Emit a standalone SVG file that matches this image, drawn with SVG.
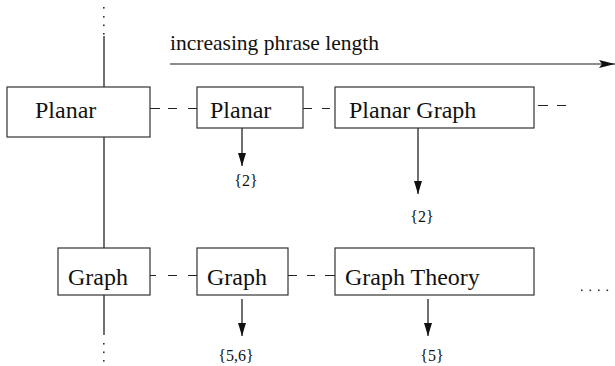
<svg xmlns="http://www.w3.org/2000/svg" width="615" height="366" viewBox="0 0 615 366">
<style>
.box{fill:#fff;stroke:#333;stroke-width:1.2}
.lbl{font-family:"Liberation Serif","Times New Roman",serif;font-size:24px;fill:#111}
.sm{font-family:"Liberation Serif","Times New Roman",serif;font-size:16px;fill:#111;text-anchor:middle}
.ln{stroke:#111;stroke-width:1.2;fill:none}
.dash{stroke:#222;stroke-width:1.2;fill:none}
.dot{fill:#333}
</style>
<defs>
<marker id="ah" markerWidth="14" markerHeight="8" refX="13" refY="4" orient="auto" markerUnits="userSpaceOnUse"><path d="M0,0 L13,4 L0,8 Z" fill="#111"/></marker>
<marker id="ah2" markerWidth="17" markerHeight="8" refX="16" refY="4" orient="auto" markerUnits="userSpaceOnUse"><path d="M0,0 L16,4 L0,8 L3,4 Z" fill="#111"/></marker>
</defs>
<g id="axis">
<text x="170" y="50" font-family="Liberation Serif, Times New Roman, serif" font-size="21.5" fill="#111">increasing phrase length</text>
<line x1="170" y1="64" x2="615" y2="64" stroke="#666" stroke-width="1.6" marker-end="url(#ah2)"/>
</g>
<g id="connectors">
<line class="ln" x1="104" y1="36" x2="104" y2="87"/>
<line class="ln" x1="104" y1="133" x2="104" y2="248"/>
<line class="ln" x1="104" y1="295" x2="104" y2="335"/>
<g class="dot">
<rect x="103" y="7" width="1.6" height="1.6"/><rect x="103" y="16" width="1.6" height="1.6"/><rect x="103" y="24.5" width="1.6" height="1.6"/><rect x="103" y="33" width="1.6" height="1.6"/>
<rect x="103" y="343" width="1.6" height="1.6"/><rect x="103" y="351.5" width="1.6" height="1.6"/><rect x="103" y="360" width="1.6" height="1.6"/>
<rect x="581" y="289.5" width="1.6" height="1.6"/><rect x="589.5" y="289.5" width="1.6" height="1.6"/><rect x="598" y="289.5" width="1.6" height="1.6"/><rect x="606.5" y="289.5" width="1.6" height="1.6"/>
</g>
<path class="dash" d="M150 108.5H160M168 108.5H177M188 108.5H197M303 108.5H312M322 108.5H330M538 105.5H548M557 105.5H566"/>
<path class="dash" d="M150 275.5H156M168 275.5H177M188 275.5H197M288 275.5H297M307 275.5H315M325 275.5H335"/>
<line class="ln" x1="242" y1="124" x2="242" y2="166" marker-end="url(#ah)"/>
<line class="ln" x1="418" y1="128" x2="418" y2="194" marker-end="url(#ah)"/>
<line class="ln" x1="242" y1="299" x2="242" y2="336" marker-end="url(#ah)"/>
<line class="ln" x1="428" y1="299" x2="428" y2="336" marker-end="url(#ah)"/>
<text class="sm" x="246" y="186">{2}</text>
<text class="sm" x="422" y="222">{2}</text>
<text class="sm" x="236" y="361">{5,6}</text>
<text class="sm" x="432" y="361">{5}</text>
</g>
<g id="n-planar1"><rect class="box" x="7" y="87" width="143" height="50"/><text class="lbl" x="35" y="118">Planar</text></g>
<g id="n-planar2"><rect class="box" x="197" y="87" width="106" height="41"/><text class="lbl" x="210" y="118">Planar</text></g>
<g id="n-planargraph"><rect class="box" x="335" y="87" width="199" height="41"/><text class="lbl" x="349" y="118">Planar Graph</text></g>
<g id="n-graph1"><rect class="box" x="58" y="248" width="92" height="47"/><text class="lbl" x="68" y="285">Graph</text></g>
<g id="n-graph2"><rect class="box" x="197" y="248" width="91" height="47"/><text class="lbl" x="207" y="285">Graph</text></g>
<g id="n-graphtheory"><rect class="box" x="335" y="248" width="199" height="47"/><text class="lbl" x="345" y="285">Graph Theory</text></g>
</svg>
